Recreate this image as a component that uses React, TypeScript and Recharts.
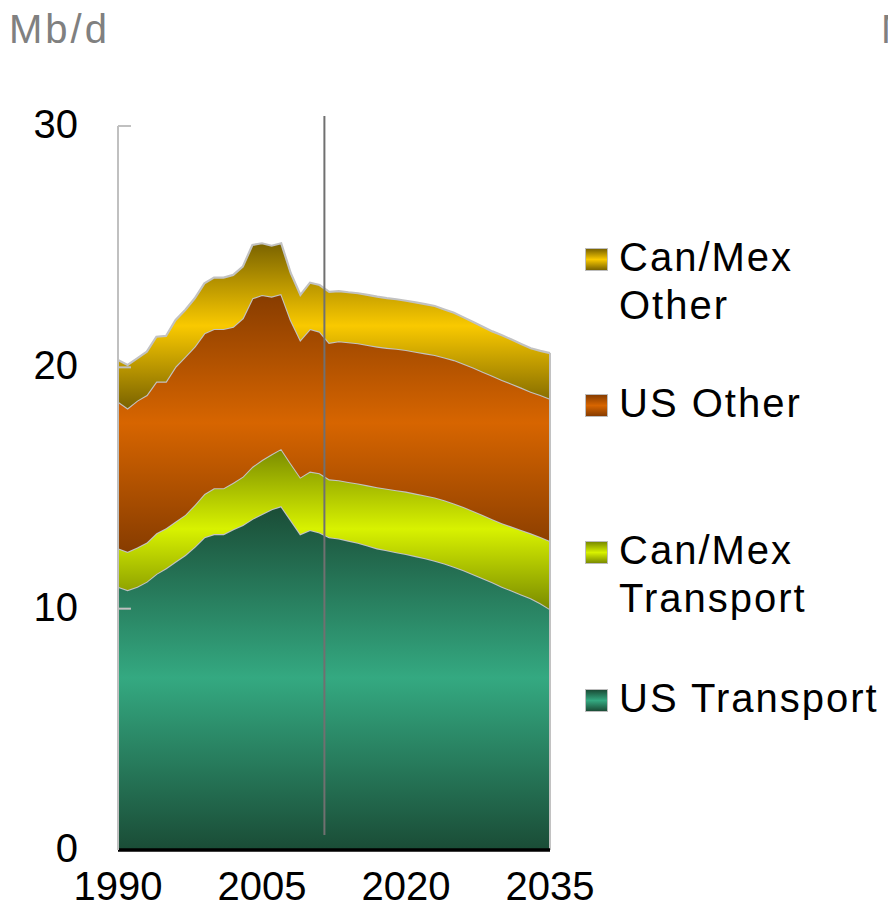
import React from "react";
import { AreaChart, Area, XAxis, YAxis, ReferenceLine, Legend } from "recharts";

// Mb/d, stacked: bottom to top
const YEARS = [
  1990, 1991, 1992, 1993, 1994, 1995, 1996, 1997, 1998, 1999,
  2000, 2001, 2002, 2003, 2004, 2005, 2006, 2007, 2008, 2009,
  2010, 2011, 2012, 2013, 2014, 2015, 2016, 2017, 2018, 2019,
  2020, 2021, 2022, 2023, 2024, 2025, 2026, 2027, 2028, 2029,
  2030, 2031, 2032, 2033, 2034, 2035,
];
const US_TRANSPORT = [
  10.91, 10.77, 10.91, 11.12, 11.44, 11.67, 11.95, 12.22, 12.57, 12.96,
  13.09, 13.09, 13.29, 13.47, 13.72, 13.92, 14.12, 14.25, 13.67, 13.09,
  13.26, 13.16, 12.96, 12.91, 12.82, 12.73, 12.62, 12.5, 12.42, 12.34,
  12.27, 12.18, 12.09, 11.99, 11.87, 11.74, 11.59, 11.43, 11.26, 11.09,
  10.91, 10.75, 10.59, 10.43, 10.22, 9.98,
];
const CANMEX_TRANSPORT = [
  1.59, 1.59, 1.62, 1.62, 1.68, 1.66, 1.66, 1.66, 1.73, 1.79,
  1.9, 1.9, 1.93, 2.0, 2.16, 2.24, 2.28, 2.37, 2.35, 2.35,
  2.42, 2.45, 2.4, 2.41, 2.43, 2.46, 2.49, 2.53, 2.55, 2.57,
  2.58, 2.59, 2.6, 2.62, 2.62, 2.62, 2.62, 2.62, 2.62, 2.62,
  2.63, 2.65, 2.67, 2.69, 2.75, 2.82,
];
const US_OTHER = [
  6.08, 5.94, 6.09, 6.11, 6.29, 6.08, 6.42, 6.56, 6.56, 6.66,
  6.6, 6.6, 6.46, 6.56, 6.98, 6.84, 6.53, 6.42, 5.94, 5.69,
  5.91, 5.87, 5.66, 5.76, 5.79, 5.81, 5.82, 5.83, 5.84, 5.86,
  5.87, 5.88, 5.89, 5.9, 5.92, 5.94, 5.94, 5.94, 5.94, 5.94,
  5.94, 5.92, 5.9, 5.87, 5.88, 5.9,
];
const CANMEX_OTHER = [
  1.72, 1.8, 1.75, 1.8, 1.86, 1.89, 1.93, 1.94, 2.0, 2.07,
  2.13, 2.13, 2.15, 2.14, 2.21, 2.14, 2.11, 2.1, 1.94, 1.87,
  1.92, 1.93, 2.11, 2.08, 2.07, 2.07, 2.07, 2.07, 2.06, 2.05,
  2.04, 2.04, 2.04, 2.03, 1.99, 1.96, 1.92, 1.89, 1.86, 1.84,
  1.85, 1.83, 1.81, 1.8, 1.83, 1.89,
];
const X_TICKS = [1990, 2005, 2020, 2035];
const Y_TICKS = [0, 10, 20, 30];
const PROJECTION_YEAR = 2011.5;

const data = YEARS.map((year, i) => ({
  year,
  usTransport: US_TRANSPORT[i],
  canMexTransport: CANMEX_TRANSPORT[i],
  usOther: US_OTHER[i],
  canMexOther: CANMEX_OTHER[i],
}));
const first = YEARS[0];
const lastYear = YEARS[YEARS.length - 1];
const last = data[data.length - 1];
const lastTotal = last.usTransport + last.canMexTransport + last.usOther + last.canMexOther;

const FONT = "'Liberation Sans', Arial, sans-serif";

// bottom-to-top stacking order; gradient dark edges, light middle (like the Excel fill)
const SERIES = [
  { key: "usTransport", lines: ["US Transport"], dark: "#1a4c36", light: "#34a981" },
  { key: "canMexTransport", lines: ["Can/Mex", "Transport"], dark: "#7a8b00", light: "#d8f200" },
  { key: "usOther", lines: ["US Other"], dark: "#873c00", light: "#d76500" },
  { key: "canMexOther", lines: ["Can/Mex", "Other"], dark: "#7a6300", light: "#f9c900" },
];
const LEGEND_TOPS = [233, 379, 526, 674]; // top-to-bottom

const YTick = ({ x, y, payload }: any) => (
  <text x={x} y={y + 12} textAnchor="end" fontSize={40} fontFamily={FONT} fill="#000">
    {payload.value}
  </text>
);

const XTick = ({ x, y, payload }: any) => (
  <text x={x} y={y + 26} textAnchor="middle" fontSize={40} fontFamily={FONT} fill="#000">
    {payload.value}
  </text>
);

const LegendBox = () => {
  const items = [...SERIES].reverse();
  return (
    <div style={{ position: "relative", width: 305, height: 908, fontFamily: FONT }}>
      {items.map((s, i) => (
        <div key={s.key} style={{ position: "absolute", left: 0, top: LEGEND_TOPS[i] }}>
          <div
            style={{
              position: "absolute",
              left: 2,
              top: 15,
              width: 21,
              height: 21,
              border: "1px solid #bdbdbd",
              background: `linear-gradient(${s.dark}, ${s.light}, ${s.dark})`,
            }}
          />
          <div
            style={{
              position: "absolute",
              left: 36,
              top: 0,
              fontSize: 40,
              lineHeight: "48px",
              letterSpacing: 2,
              whiteSpace: "nowrap",
              color: "#000",
            }}
          >
            {s.lines.map((l) => (
              <div key={l}>{l}</div>
            ))}
          </div>
        </div>
      ))}
    </div>
  );
};

export default function App() {
  return (
    <div
      style={{
        position: "absolute",
        left: 0,
        top: 0,
        width: 888,
        height: 908,
        overflow: "hidden",
        background: "#fff",
      }}
    >
      <div
        style={{
          position: "absolute",
          left: 9,
          top: 9,
          fontFamily: FONT,
          fontSize: 40,
          lineHeight: "40px",
          letterSpacing: 3,
          color: "#808080",
        }}
      >
        Mb/d
      </div>
      <div
        style={{
          position: "absolute",
          left: 881,
          top: 9,
          fontFamily: FONT,
          fontSize: 40,
          lineHeight: "40px",
          color: "#808080",
          whiteSpace: "nowrap",
        }}
      >
        Mb/d
      </div>
      <AreaChart
        width={888}
        height={908}
        data={data}
        margin={{ top: 126, right: 338, bottom: 0, left: 0 }}
      >
        <defs>
          {SERIES.map((s) => (
            <linearGradient key={s.key} id={`g-${s.key}`} x1="0" y1="0" x2="0" y2="1">
              <stop offset="0%" stopColor={s.dark} />
              <stop offset="50%" stopColor={s.light} />
              <stop offset="100%" stopColor={s.dark} />
            </linearGradient>
          ))}
        </defs>
        {SERIES.map((s) => (
          <Area
            key={s.key}
            type="linear"
            dataKey={s.key}
            stackId="a"
            fill={`url(#g-${s.key})`}
            fillOpacity={1}
            stroke="#c2c2c2"
            strokeWidth={2.2}
            isAnimationActive={false}
            dot={false}
            activeDot={false}
          />
        ))}
        <XAxis
          dataKey="year"
          type="number"
          domain={[1990, 2035]}
          ticks={X_TICKS}
          height={58}
          tickLine={false}
          tickSize={0}
          tickMargin={24}
          axisLine={{ stroke: "#000", strokeWidth: 3 }}
          tick={<XTick />}
          interval={0}
        />
        <YAxis
          type="number"
          domain={[0, 30]}
          ticks={Y_TICKS}
          width={118}
          tickLine={false}
          tickSize={0}
          tickMargin={40}
          axisLine={{ stroke: "#c0c0c0", strokeWidth: 2 }}
          tick={<YTick />}
          interval={0}
        />
        {/* right edge outline of the stack */}
        <ReferenceLine
          segment={[
            { x: lastYear, y: 0 },
            { x: lastYear, y: lastTotal },
          ]}
          stroke="#c2c2c2"
          strokeWidth={2}
          ifOverflow="visible"
        />
        {/* value axis line + inside ticks, kept over the areas */}
        <ReferenceLine x={first} stroke="#c0c0c0" strokeWidth={2} ifOverflow="visible" />
        {Y_TICKS.filter((v) => v > 0).map((v) => (
          <ReferenceLine
            key={v}
            segment={[
              { x: first, y: v },
              { x: first + 1.35, y: v },
            ]}
            stroke="#c0c0c0"
            strokeWidth={2}
            ifOverflow="visible"
          />
        ))}
        {/* category axis line */}
        <ReferenceLine y={0} stroke="#000" strokeWidth={3} ifOverflow="visible" />
        {/* history / projection divider */}
        <ReferenceLine
          segment={[
            { x: PROJECTION_YEAR, y: 0.62 },
            { x: PROJECTION_YEAR, y: 30.41 },
          ]}
          stroke="#707070"
          strokeWidth={2}
          ifOverflow="visible"
        />
        <Legend
          layout="horizontal"
          verticalAlign="middle"
          align="center"
          content={<LegendBox />}
          wrapperStyle={{ left: 583, top: 0, width: 305, height: 908 }}
        />
      </AreaChart>
    </div>
  );
}
